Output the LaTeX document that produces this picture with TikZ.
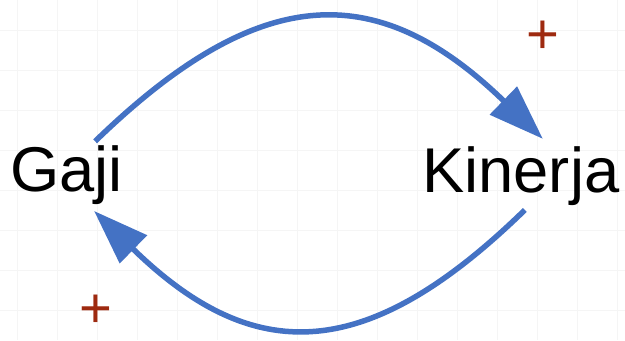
\documentclass[tikz,border=0pt]{standalone}
\usepackage{fontspec}
\setmainfont{Liberation Sans}
\usetikzlibrary{arrows.meta,positioning,calc}
\definecolor{loopblue}{HTML}{4472C4}
\definecolor{signred}{HTML}{9E2A10}
\definecolor{gridgray}{HTML}{F5F5F5}
\tikzset{
  varnode/.style={inner sep=0pt, anchor=base west, font=\fontsize{36}{40}\selectfont},
  signnode/.style={inner sep=0pt, text=signred, font=\fontsize{32}{36}\selectfont},
  link/.style={-{Triangle[length=11mm, width=7.6mm]}, line width=1.1mm, draw=loopblue},
  gridline/.style={draw=gridgray, line width=0.5pt}
}
\begin{document}
\begin{tikzpicture}
  \useasboundingbox (0,0) rectangle (12.5,6.8);
  % faint background grid
  \foreach \x in {0.34,1.14,...,12.5} \draw[gridline] (\x,0) -- (\x,6.8);
  \foreach \y in {0.6,1.4,...,6.8} \draw[gridline] (0,\y) -- (12.5,\y);

  \node[varnode] (gaji) at (0.2,2.98) {Gaji};
  \node[varnode] (kinerja) at (8.44,2.96) {Kinerja};
  \node[signnode] (plustop) at (10.86,6.06) {+};
  \node[signnode] (plusbot) at (1.91,0.58) {+};

  \draw[link] ($(gaji.north)+(0.57,0.07)$) .. controls +(3.3,3.2) and +(-3.3,3.2) .. ($(kinerja.north)+(0.44,0.14)$);
  \draw[link] ($(kinerja.south)+(0.08,-0.09)$) .. controls +(-3.18,-3.1) and +(3.18,-3.1) .. ($(gaji.south)+(0.55,-0.13)$);
\end{tikzpicture}
\end{document}
